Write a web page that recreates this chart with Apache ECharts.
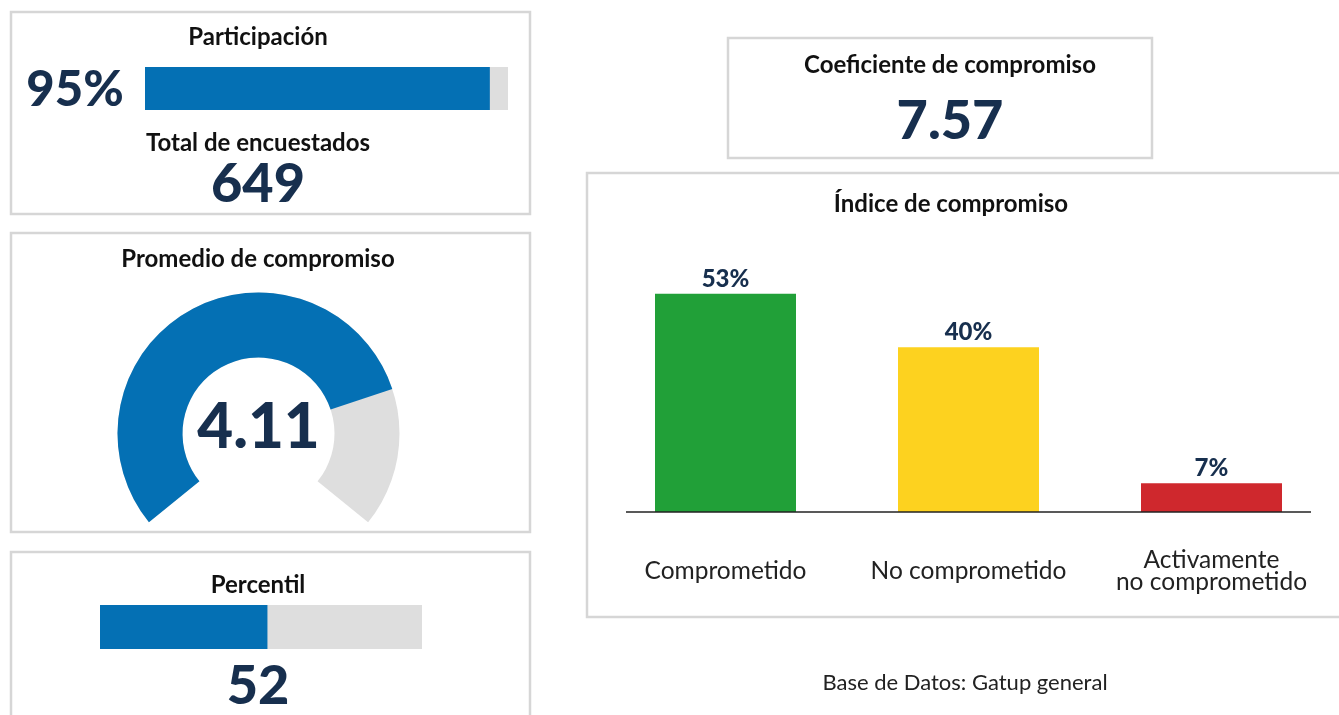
<!DOCTYPE html>
<html>
<head>
<meta charset="utf-8">
<script src="https://cdn.jsdelivr.net/npm/echarts@6/dist/echarts.min.js"></script>
<style>
html,body{margin:0;padding:0;background:#fff;}
#chart{width:1339px;height:715px;}
</style>
</head>
<body>
<div id="chart"></div>
<script>
// ---- data ----
const participacion = [95];          // %
const totalEncuestados = [649];
const promedioCompromiso = [4.11];   // scale 1-5
const promedioRange = [1, 5];
const percentil = [52];
const coeficiente = [7.57];
const indiceCategories = ['Comprometido', 'No comprometido', 'Activamente\nno comprometido'];
const indiceValues = [53, 40, 7];
const indiceColors = ['#21a038', '#fdd21f', '#cf282d'];
const fuente = 'Base de Datos: Gatup general';

const FONT = 'Lato, "Noto Sans", sans-serif';
const NAVY = '#172f4e';
const BLUE = '#0470b4';
const GRAY = '#dedede';
const BORDER = '#d6d6d6';

const chart = echarts.init(document.getElementById('chart'), null, {renderer: 'canvas'});

function box(x, y, w, h) {
  return {type: 'rect', shape: {x: x, y: y, width: w, height: h},
    style: {fill: 'none', stroke: BORDER, lineWidth: 2.5}, z: 0};
}
function txt(x, y, s, size, weight, color) {
  return {type: 'text', x: x, y: y, z: 10,
    style: {text: s, fontSize: size, fontWeight: weight, fill: color,
      fontFamily: FONT, align: 'center', verticalAlign: 'middle'}};
}

const option = {
  animation: false,
  backgroundColor: '#fff',
  grid: [
    {left: 145, top: 67, width: 363, height: 43},       // participación
    {left: 100, top: 605, width: 322, height: 44},      // percentil
    {left: 604, top: 265, width: 729, height: 247}      // índice
  ],
  xAxis: [
    {gridIndex: 0, type: 'value', min: 0, max: 100, show: false},
    {gridIndex: 1, type: 'value', min: 0, max: 100, show: false},
    {gridIndex: 2, type: 'category', data: indiceCategories,
      axisLine: {show: false}, axisTick: {show: false},
      axisLabel: {margin: 59, fontSize: 24.5, color: '#222', fontFamily: FONT,
        lineHeight: 22, verticalAlign: 'middle', interval: 0}}
  ],
  yAxis: [
    {gridIndex: 0, type: 'category', data: [''], show: false},
    {gridIndex: 1, type: 'category', data: [''], show: false},
    {gridIndex: 2, type: 'value', min: 0, max: 60, show: false}
  ],
  series: [
    {type: 'bar', xAxisIndex: 0, yAxisIndex: 0, data: participacion,
      barWidth: '100%', itemStyle: {color: BLUE},
      showBackground: true, backgroundStyle: {color: GRAY}},
    {type: 'bar', xAxisIndex: 1, yAxisIndex: 1, data: percentil,
      barWidth: '100%', itemStyle: {color: BLUE},
      showBackground: true, backgroundStyle: {color: GRAY}},
    {type: 'bar', xAxisIndex: 2, yAxisIndex: 2, barWidth: 141,
      data: indiceValues.map((v, i) => ({value: v, itemStyle: {color: indiceColors[i]}})),
      label: {show: true, position: 'top', distance: 3, formatter: '{c}%',
        fontSize: 24, fontWeight: 900, color: NAVY, fontFamily: FONT}},
    {type: 'gauge', center: [258.5, 433.5], radius: 141,
      startAngle: 219, endAngle: -39, min: promedioRange[0], max: promedioRange[1],
      progress: {show: true, width: 65, roundCap: false, itemStyle: {color: BLUE}},
      axisLine: {lineStyle: {width: 65, color: [[1, GRAY]]}},
      pointer: {show: false}, anchor: {show: false},
      axisTick: {show: false}, splitLine: {show: false}, axisLabel: {show: false},
      title: {show: false},
      detail: {show: true, offsetCenter: [0, -6], fontSize: 62, fontWeight: 900,
        color: NAVY, fontFamily: FONT, formatter: v => v.toFixed(2)},
      data: [{value: promedioCompromiso[0]}]}
  ],
  graphic: [
    box(11, 12, 519, 202),
    box(11, 233, 519, 299),
    box(11, 552, 519, 175),
    box(728, 38, 424, 120),
    box(587, 173, 765, 444),
    {type: 'line', shape: {x1: 626, y1: 512, x2: 1311, y2: 512},
      style: {stroke: '#222', lineWidth: 1.5}, z: 5},
    txt(258, 37, 'Participación', 24, 'bold', '#111'),
    txt(75, 90, participacion[0] + '%', 49, 900, NAVY),
    txt(258, 143, 'Total de encuestados', 24, 'bold', '#111'),
    txt(258, 185, String(totalEncuestados[0]), 54, 900, NAVY),
    txt(258, 259, 'Promedio de compromiso', 24, 'bold', '#111'),
    txt(258, 585, 'Percentil', 24, 'bold', '#111'),
    txt(258, 687, String(percentil[0]), 54, 900, NAVY),
    txt(950, 65, 'Coeficiente de compromiso', 24, 'bold', '#111'),
    txt(950, 122, coeficiente[0].toFixed(2), 54, 900, NAVY),
    txt(951, 204, 'Índice de compromiso', 24, 'bold', '#111'),
    txt(965, 683, fuente, 22, 'normal', '#222')
  ]
};
chart.setOption(option);
</script>
</body>
</html>
